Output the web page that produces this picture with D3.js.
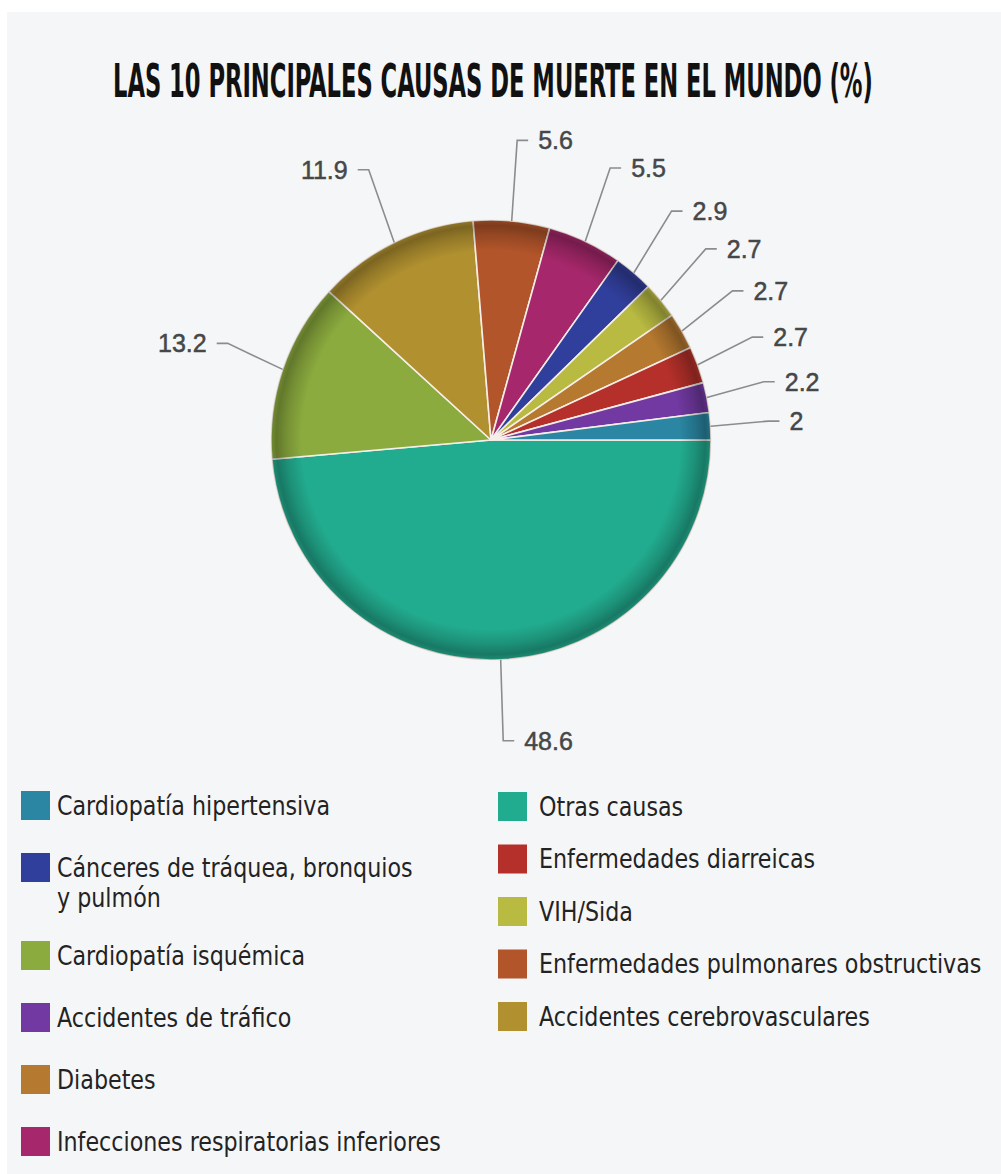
<!DOCTYPE html>
<html>
<head>
<meta charset="utf-8">
<script src="https://cdn.jsdelivr.net/npm/d3@7"></script>
<style>
  html, body { margin: 0; padding: 0; background: #ffffff; }
  svg { display: block; }
</style>
</head>
<body>
<svg id="chart" width="1001" height="1174"></svg>
<script>
// Causes of death, in the order the slices run (clockwise from 3 o'clock)
const causes = [
  "Otras causas",
  "Cardiopatía isquémica",
  "Accidentes cerebrovasculares",
  "Enfermedades pulmonares obstructivas",
  "Infecciones respiratorias inferiores",
  "Cánceres de tráquea, bronquios y pulmón",
  "VIH/Sida",
  "Diabetes",
  "Enfermedades diarreicas",
  "Accidentes de tráfico",
  "Cardiopatía hipertensiva"
];
const shares = [48.6, 13.2, 11.9, 5.6, 5.5, 2.9, 2.7, 2.7, 2.7, 2.2, 2];
const colors = [
  "#22ac8f", "#8bab3e", "#b0902f", "#b3552a", "#a6276b", "#313f9c",
  "#b8ba42", "#b67930", "#b5302a", "#7239a2", "#2a86a2"
];

// Legend columns (cause names) and the lines each entry is printed on
const legendLeft = [
  "Cardiopatía hipertensiva",
  "Cánceres de tráquea, bronquios y pulmón",
  "Cardiopatía isquémica",
  "Accidentes de tráfico",
  "Diabetes",
  "Infecciones respiratorias inferiores"
];
const legendRight = [
  "Otras causas",
  "Enfermedades diarreicas",
  "VIH/Sida",
  "Enfermedades pulmonares obstructivas",
  "Accidentes cerebrovasculares"
];
const legendLines = {
  "Cánceres de tráquea, bronquios y pulmón": ["Cánceres de tráquea, bronquios", "y pulmón"]
};

const title = "LAS 10 PRINCIPALES CAUSAS DE MUERTE EN EL MUNDO (%)";

const svg = d3.select("#chart");
const W = 1001, H = 1174;

// panel background
svg.append("rect")
  .attr("x", 7).attr("y", 12)
  .attr("width", W - 7).attr("height", H - 12)
  .attr("fill", "#f5f6f7");

// title, squeezed horizontally to a condensed look
const titleWidth = 760, titleCx = 493;
const titleG = svg.append("g");
const titleText = titleG.append("text")
  .attr("x", 0).attr("y", 0)
  .attr("font-family", "'DejaVu Sans Condensed', 'DejaVu Sans', sans-serif")
  .attr("font-weight", "bold")
  .attr("font-size", 46)
  .attr("fill", "#111")
  .text(title);
const natural = titleText.node().getComputedTextLength();
const tsx = titleWidth / natural;
titleG.attr("transform", `translate(${titleCx - titleWidth / 2},97) scale(${tsx},1)`);

// ---- pie ----
const cx = 491, cy = 440, r = 220;
const color = d3.scaleOrdinal().domain(causes).range(colors);

const pie = d3.pie()
  .sort(null)
  .value(d => d.value)
  .startAngle(Math.PI / 2)
  .endAngle(Math.PI / 2 + 2 * Math.PI);

const data = causes.map((c, i) => ({ cause: c, value: shares[i] }));
const arcs = pie(data);
const arc = d3.arc().innerRadius(0).outerRadius(r);

const defs = svg.append("defs");
const rim = defs.append("radialGradient").attr("id", "rim")
  .attr("cx", "50%").attr("cy", "50%").attr("r", "50%");
[[0, 0], [0.86, 0], [0.93, 0.16], [0.975, 0.3], [1, 0.18]].forEach(([o, a]) => {
  rim.append("stop").attr("offset", o).attr("stop-color", "#000").attr("stop-opacity", a);
});

const g = svg.append("g").attr("transform", `translate(${cx},${cy})`);

g.selectAll("path.slice")
  .data(arcs)
  .join("path")
  .attr("class", "slice")
  .attr("d", arc)
  .attr("fill", d => color(d.data.cause))
  .attr("stroke", "#f6eee8")
  .attr("stroke-width", 1.6)
  .attr("stroke-linejoin", "round");

g.append("circle")
  .attr("r", r)
  .attr("fill", "url(#rim)")
  .attr("pointer-events", "none");

// ---- value labels with leader lines ----
const ringX = 278, ringY = 301;
const labels = g.append("g");
arcs.forEach(d => {
  const m = (d.startAngle + d.endAngle) / 2;
  const sx = Math.sin(m), sy = -Math.cos(m);
  const side = sx >= 0 ? 1 : -1;
  const p0 = [r * sx, r * sy];
  const p1 = [ringX * sx, ringY * sy];
  const p2 = [p1[0] + side * 11, p1[1]];
  labels.append("path")
    .attr("d", d3.line()([p0, p1, p2]))
    .attr("fill", "none")
    .attr("stroke", "#8a8c8e")
    .attr("stroke-width", 1.6);
  labels.append("text")
    .attr("x", p1[0] + side * 21)
    .attr("y", p1[1])
    .attr("dy", "0.36em")
    .attr("text-anchor", side > 0 ? "start" : "end")
    .attr("font-family", "'Liberation Sans', Arial, sans-serif")
    .attr("font-size", 25)
    .attr("fill", "#454749")
    .attr("stroke", "#454749")
    .attr("stroke-width", 0.5)
    .text(d3.format("~g")(d.data.value));
});

// ---- legend ----
const sw = 29;
const condense = 0.95;
function drawLegend(items, x0, y0, step, lineStep, gap) {
  let y = y0;
  items.forEach(name => {
    const lines = legendLines[name] || [name];
    svg.append("rect")
      .attr("x", x0).attr("y", y)
      .attr("width", sw).attr("height", sw)
      .attr("fill", color(name));
    lines.forEach((ln, k) => {
      svg.append("g")
        .attr("transform", `translate(${x0 + sw + gap},${y + 23.5 + k * 30}) scale(${condense},1)`)
        .append("text")
        .attr("font-family", "'DejaVu Sans Condensed', 'DejaVu Sans', sans-serif")
        .attr("font-size", 26)
        .attr("fill", "#232323")
        .text(ln);
    });
    y += step + (lines.length - 1) * lineStep;
  });
}
drawLegend(legendLeft, 21, 791, 62, 26, 7);
drawLegend(legendRight, 498, 792, 52.5, 26, 12);
</script>
</body>
</html>
